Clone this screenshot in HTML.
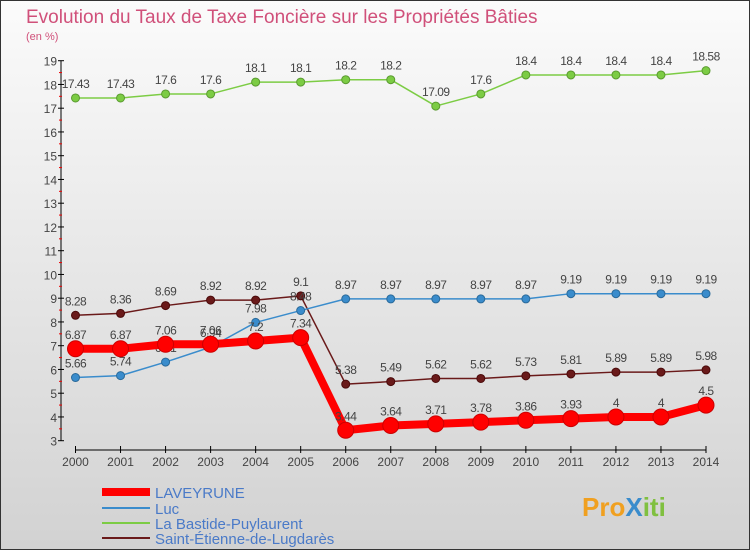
<!DOCTYPE html>
<html><head><meta charset="utf-8"><style>
body{margin:0;width:750px;height:550px;overflow:hidden;font-family:"Liberation Sans",sans-serif}
</style></head><body>
<svg id="c" width="750" height="550" xmlns="http://www.w3.org/2000/svg">
<defs><linearGradient id="bg" x1="0" y1="0" x2="0" y2="1"><stop offset="0" stop-color="#fbfbfb"/><stop offset="1" stop-color="#d2d2d2"/></linearGradient></defs>
<rect x="0.5" y="0.5" width="749" height="549" fill="url(#bg)" stroke="#333"/>
<text x="26" y="23" font-size="19" fill="#d0507a">Evolution du Taux de Taxe Foncière sur les Propriétés Bâties</text>
<text x="26" y="40" font-size="11" fill="#d0507a">(en %)</text>
<g id="axes"></g><g id="series"></g>
<g>
<line x1="102" y1="492" x2="150" y2="492" stroke="#f00" stroke-width="8"/>
<text x="155" y="498" font-size="15" fill="#4a7ac8">LAVEYRUNE</text>
<line x1="102" y1="508" x2="150" y2="508" stroke="#3a8ccc" stroke-width="2"/>
<text x="155" y="514" font-size="15" fill="#4a7ac8">Luc</text>
<line x1="102" y1="523" x2="150" y2="523" stroke="#7ccc44" stroke-width="2"/>
<text x="155" y="529" font-size="15" fill="#4a7ac8">La Bastide-Puylaurent</text>
<line x1="102" y1="538" x2="150" y2="538" stroke="#6a1a1a" stroke-width="2"/>
<text x="155" y="544" font-size="15" fill="#4a7ac8">Saint-Étienne-de-Lugdarès</text>
</g>
<text x="582" y="516" font-size="26" font-weight="bold" fill="#f0a020">Pro<tspan fill="#3a8ccc">X</tspan><tspan fill="#80c040">iti</tspan></text>
</svg>
<script>
const years=[2000,2001,2002,2003,2004,2005,2006,2007,2008,2009,2010,2011,2012,2013,2014];
const yTicks=[3,4,5,6,7,8,9,10,11,12,13,14,15,16,17,18,19];
const laveyrune=[6.87,6.87,7.06,7.06,7.2,7.34,3.44,3.64,3.71,3.78,3.86,3.93,4,4,4.5];
const luc=[5.66,5.74,6.31,6.94,7.98,8.48,8.97,8.97,8.97,8.97,8.97,9.19,9.19,9.19,9.19];
const bastide=[17.43,17.43,17.6,17.6,18.1,18.1,18.2,18.2,17.09,17.6,18.4,18.4,18.4,18.4,18.58];
const stEtienne=[8.28,8.36,8.69,8.92,8.92,9.1,5.38,5.49,5.62,5.62,5.73,5.81,5.89,5.89,5.98];
const NS='http://www.w3.org/2000/svg';
const X=i=>75.5+i*(706-75.5)/14;
const Y=v=>440.7-(v-3)*(380/16);
function mk(t,a,p){const e=document.createElementNS(NS,t);for(const k in a)e.setAttribute(k,a[k]);p.appendChild(e);return e;}
const ax=document.getElementById('axes');
const yl=mk('line',{x1:61,y1:Y(19),x2:61,y2:Y(3),stroke:'#000'},ax);


yTicks.forEach(t=>{
 mk('line',{x1:58,y1:Y(t),x2:64,y2:Y(t),stroke:'#000'},ax);
 if(t<19) mk('line',{x1:59,y1:Y(t+0.5),x2:62,y2:Y(t+0.5),stroke:'#e00'},ax);
 const tx=mk('text',{x:57,y:Y(t)+5,'font-size':12,'text-anchor':'end',fill:'#444'},ax);
 tx.textContent=t;
 
 
});
const xl=mk('line',{x1:X(0),y1:450,x2:X(14),y2:450,stroke:'#000'},ax);


years.forEach((y,i)=>{
 mk('line',{x1:X(i),y1:446,x2:X(i),y2:453,stroke:'#000'},ax);
 const tx=mk('text',{x:X(i),y:466,'font-size':12,'text-anchor':'middle',fill:'#444'},ax);
 tx.textContent=y;
 
 
});
const sg=document.getElementById('series');
function draw(vals,color,w,r,name,stroke){
 const g=mk('g',{},sg);
 
 
 mk('polyline',{points:vals.map((v,i)=>X(i)+','+Y(v)).join(' '),fill:'none',stroke:color,'stroke-width':w,'stroke-linejoin':'round'},g);
 vals.forEach((v,i)=>{
  const c=mk('circle',{cx:X(i),cy:Y(v),r:r,fill:color,stroke:stroke,'stroke-width':1},g);
  
  
  const t=mk('text',{x:X(i),y:Y(v)-10,'font-size':12,'text-anchor':'middle',fill:'#444','letter-spacing':'-0.5'},g);
  t.textContent=v;
  
  
 });
}
draw(bastide,'#7ccc44',1.5,4,'bastide','#5a9a30');
draw(stEtienne,'#6a1a1a',1.5,4,'saint-etienne','#4a0a0a');
draw(luc,'#3a8ccc',1.5,4,'luc','#2a6a9a');
draw(laveyrune,'#f00',8,8,'laveyrune','#c00');
</script>
</body></html>
